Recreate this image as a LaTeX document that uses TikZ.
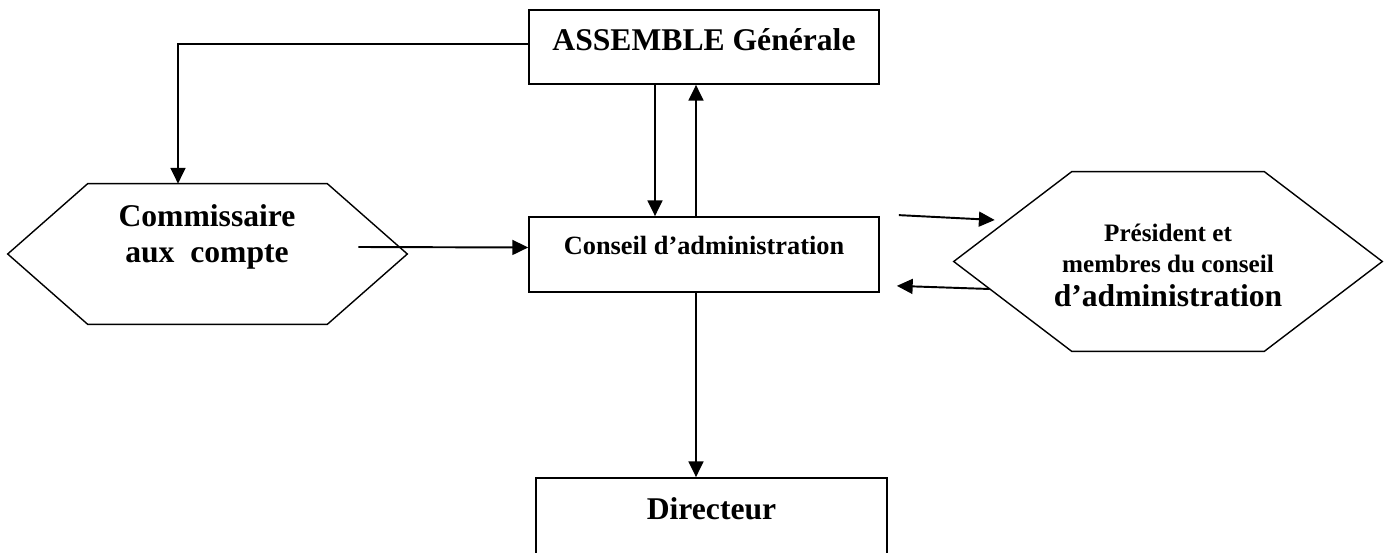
\documentclass[tikz,border=0pt]{standalone}
\usepackage{fontspec}
\setmainfont{Liberation Serif}
\usetikzlibrary{arrows.meta,calc}

\begin{document}
\begin{tikzpicture}[
  x=0.02cm, y=-0.02cm,
  >={Triangle[length=9pt,width=8.5pt]},
  font=\bfseries,
  box/.style={draw, line width=1pt, inner sep=0pt, text height=7pt, text depth=7pt},
  hexa/.style={inner sep=0pt},
  hexline/.style={line width=0.8pt},
  flow/.style={->, line width=1.1pt}
]
  \useasboundingbox (0,0) rectangle (1391,553);
  \node[box, minimum width=7cm, minimum height=1.48cm, font=\fontsize{18}{21}\bfseries] (ag) at (704,47) {\raisebox{-2pt}{ASSEMBLE Générale}};
  \node[box, minimum width=7cm, minimum height=1.5cm, font=\fontsize{15}{18}\bfseries] (ca) at (704,254.5) {Conseil d’administration};
  \node[box, minimum width=7.02cm, minimum height=1.64cm, font=\fontsize{18}{21}\bfseries] (dir) at (711.5,519) {Directeur};
  % hexagons
  \node[hexa, minimum width=7.98cm, minimum height=2.8cm] (cac) at (207.5,254) {};
  \draw[hexline] (cac.west) -- ($(cac.north west)+(80,0)$) -- ($(cac.north east)+(-80,0)$) -- (cac.east)
    -- ($(cac.south east)+(-80,0)$) -- ($(cac.south west)+(80,0)$) -- cycle;
  \node[align=center, font=\fontsize{18}{20.5}\bfseries] (cactxt) at (207,237) {Commissaire\\aux~~compte};
  \node[hexa, minimum width=8.56cm, minimum height=3.58cm] (pres) at (1168,261.5) {};
  \draw[hexline] (pres.west) -- ($(pres.north west)+(118,0)$) -- ($(pres.north east)+(-118,0)$) -- (pres.east)
    -- ($(pres.south east)+(-118,0)$) -- ($(pres.south west)+(118,0)$) -- cycle;
  \node[align=center, font=\fontsize{14.3}{18}\bfseries] (prestxt) at (1168,265)
    {Président et\\ membres du conseil\\[1pt] \fontsize{18}{20}\selectfont d’administration};
  % connectors
  \draw[flow] ($(ag.west)+(0,-3)$) -| ($(cac.north)+(-29.5,0)$);
  \draw[flow] ($(ag.south)+(-49,0)$) -- ($(ca.north)+(-49,0)$);
  \draw[flow] ($(ca.north)+(-8,0)$) -- ($(ag.south)+(-8,0)$);
  \draw[flow] ($(cac.east)+(-49,-7)$) -- ($(ca.west)+(0,-7)$);
  \draw[flow] ($(ca.north east)+(19,-1)$) -- ($(pres.west)+(41,-41.5)$);
  \draw[flow] ($(pres.west)+(36,27.5)$) -- ($(ca.south east)+(17,-7)$);
  \draw[flow] ($(ca.south)+(-8,0)$) -- ($(dir.north)+(-15.5,0)$);
\end{tikzpicture}
\end{document}
